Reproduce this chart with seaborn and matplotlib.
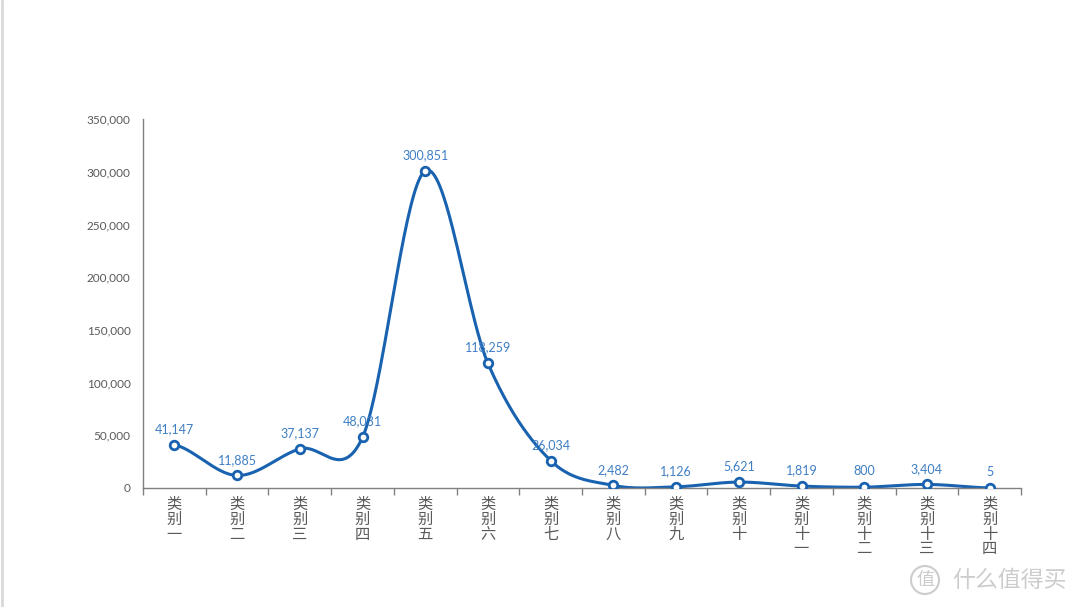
import numpy as np
import pandas as pd
import seaborn as sns
import matplotlib.pyplot as plt
from matplotlib.lines import Line2D
from matplotlib.patches import Ellipse

categories = ["一", "二", "三", "四", "五", "六", "七", "八", "九", "十",
              "十一", "十二", "十三", "十四"]
values = [41147, 11885, 37137, 48031, 300851, 118259, 26034,
          2482, 1126, 5621, 1819, 800, 3404, 5]
y_ticks = [0, 50000, 100000, 150000, 200000, 250000, 300000, 350000]

sns.set_theme(style="white")
plt.rcParams['font.family'] = ['Noto Sans CJK SC', 'DejaVu Sans']

line_color = "#1862b0"
label_color = "#3f7fc4"
gray = "#595959"

df = pd.DataFrame({"pos": np.arange(len(values)), "value": values})

# smooth curve (Catmull-Rom through the data points)
p = np.array(values, dtype=float)
pe = np.concatenate([[p[0]], p, [p[-1]]])
xs, ys = [], []
t = np.linspace(0, 1, 40)
for i in range(len(p) - 1):
    p0, p1 = pe[i + 1], pe[i + 2]
    m0 = (pe[i + 2] - pe[i]) / 2
    m1 = (pe[i + 3] - pe[i + 1]) / 2
    h00 = 2 * t**3 - 3 * t**2 + 1
    h10 = t**3 - 2 * t**2 + t
    h01 = -2 * t**3 + 3 * t**2
    h11 = t**3 - t**2
    xs.extend(i + t)
    ys.extend(h00 * p0 + h10 * m0 + h01 * p1 + h11 * m1)
smooth = pd.DataFrame({"x": xs, "y": ys})

fig = plt.figure(figsize=(10.8, 6.07), dpi=100)
ax = fig.add_axes([143 / 1080, 1 - 488 / 607, (1021 - 143) / 1080, (488 - 119) / 607])

sns.lineplot(data=smooth, x="x", y="y", ax=ax, color=line_color, linewidth=2.2,
             estimator=None, sort=False)
sns.scatterplot(data=df, x="pos", y="value", ax=ax, s=38, color="white",
                edgecolor=line_color, linewidth=2, zorder=5)

for x, v in zip(df["pos"], values):
    ax.annotate(f"{v:,}", (x, v), xytext=(0, 7), textcoords="offset points",
                ha="center", va="bottom", color=label_color, fontsize=9,
                family=["Lato", "DejaVu Sans"])

ax.set_xlim(-0.5, len(values) - 0.5)
ax.set_ylim(0, 350000)
ax.set_yticks(y_ticks)
ax.set_yticklabels([f"{v:,}" for v in y_ticks], color=gray, fontsize=8.5,
                   family=["Lato", "DejaVu Sans"])
ax.set_xticks(np.arange(len(values)))
ax.set_xticklabels(["\n".join("类别" + c) for c in categories], color=gray,
                   fontsize=11, linespacing=0.82, va="top")
ax.set_xticks(np.arange(len(values) + 1) - 0.5, minor=True)
ax.tick_params(axis="x", which="major", length=0, pad=6)
ax.tick_params(axis="x", which="minor", length=5, width=1, color="#808080",
               direction="out", bottom=True)
ax.tick_params(axis="y", length=0, pad=9)
ax.set_xlabel("")
ax.set_ylabel("")
for s in ["top", "right"]:
    ax.spines[s].set_visible(False)
for s in ["left", "bottom"]:
    ax.spines[s].set_color("#808080")
    ax.spines[s].set_linewidth(1)
ax.grid(False)

# left page border
fig.add_artist(Line2D([0.0015, 0.0015], [0, 1], color="#d9d9d9", linewidth=2,
                      transform=fig.transFigure))

# watermark
fig.add_artist(Ellipse((925 / 1080, 1 - 580 / 607), 28 / 1080, 28 / 607,
                       transform=fig.transFigure, fill=False,
                       edgecolor="#cccccc", linewidth=1.5))
fig.text(925 / 1080, 1 - 580 / 607, "值", ha="center", va="center",
         color="#cccccc", fontsize=13)
fig.text(952 / 1080, 1 - 580 / 607, "什么值得买", ha="left", va="center",
         color="#cccccc", fontsize=16.5)

fig.savefig("out.png", dpi=100, facecolor="white")
